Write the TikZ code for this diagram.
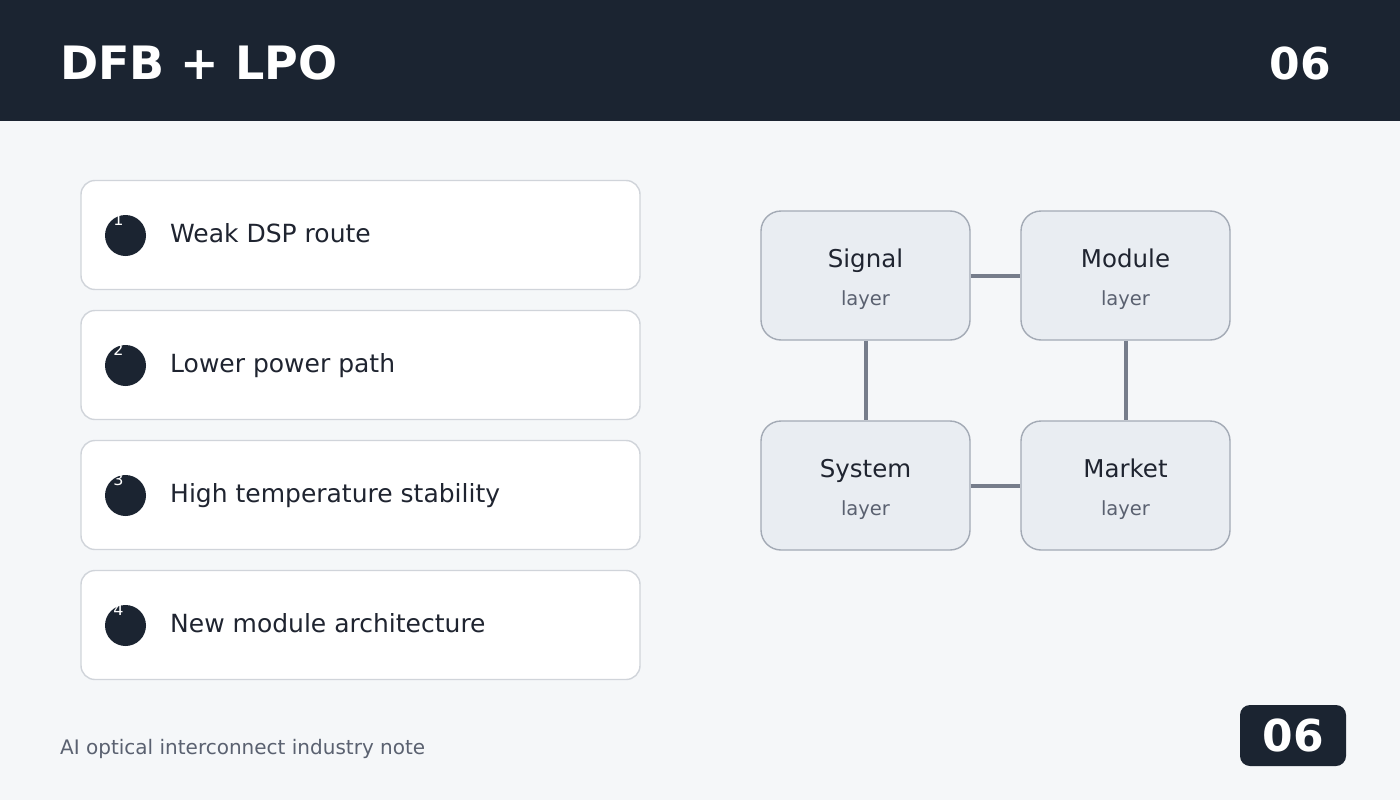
\documentclass[tikz,border=0pt]{standalone}
\usepackage{fontspec}
\setmainfont{DejaVu Sans}
\usepackage{xcolor}
\usetikzlibrary{positioning}

\definecolor{inkbg}{HTML}{1B2431}
\definecolor{pagebg}{HTML}{F5F7F9}
\definecolor{cardline}{HTML}{D0D4DA}
\definecolor{layerfill}{HTML}{E9EDF2}
\definecolor{layerline}{HTML}{A3AAB5}
\definecolor{linkgray}{HTML}{767D8B}
\definecolor{textdark}{HTML}{1F2430}
\definecolor{textsoft}{HTML}{5A6170}

\begin{document}
\begin{tikzpicture}[x=1pt,y=-1pt,
  card/.style={draw=cardline,line width=1.4pt,fill=white,rounded corners=14pt,minimum width=559pt,minimum height=109pt,inner sep=0pt},
  dot/.style={circle,fill=inkbg,minimum size=41pt,inner sep=0pt},
  layerbox/.style={draw=layerline,line width=1.4pt,fill=layerfill,rounded corners=20pt,minimum width=209pt,minimum height=129pt,inner sep=0pt},
  link/.style={draw=linkgray,line width=4pt}]
\useasboundingbox (0,0) rectangle (1400,800);
\fill[pagebg] (0,0) rectangle (1400,800);
\fill[inkbg] (0,0) rectangle (1400,121);
\node[anchor=base west,text=white,font=\fontsize{46}{50}\selectfont\bfseries,inner sep=0pt] (title) at (60,79) {DFB + LPO};
\node[anchor=base east,text=white,font=\fontsize{44}{50}\selectfont\bfseries,inner sep=0pt] (pageno) at (1331,79) {06};

% left list
\foreach \i/\y/\txt in {1/235/Weak DSP route,2/365/Lower power path,3/495/High temperature stability,4/625/New module architecture}{
  \node[card] (card\i) at (360.5,\y) {};
  \node[dot] (dot\i) at (125.5,\y+0.5) {};
  \node[text=white,font=\fontsize{16}{16}\selectfont,inner sep=0pt] (num\i) at (118.5,\y-15) {\i};
  \node[anchor=base west,text=textdark,font=\fontsize{25}{28}\selectfont,inner sep=0pt] (item\i) at (170,\y+7) {\txt};
}

% layer grid
\node[layerbox] (signal) at (865.5,275.5) {};
\node[layerbox] (module) at (1125.5,275.5) {};
\node[layerbox] (system) at (865.5,485.5) {};
\node[layerbox] (market) at (1125.5,485.5) {};
\foreach \n/\t in {signal/Signal,module/Module,system/System,market/Market}{
  \node[anchor=base,text=textdark,font=\fontsize{24.5}{28}\selectfont,inner sep=0pt] at ([yshift=8.5pt]\n.center) {\t};
  \node[anchor=base,text=textsoft,font=\fontsize{19.5}{22}\selectfont,inner sep=0pt] at ([yshift=-29.5pt]\n.center) {layer};
}
\draw[link] (signal) -- (module);
\draw[link] (system) -- (market);
\draw[link] (signal) -- (system);
\draw[link] (module) -- (market);

% footer
\node[anchor=base west,text=textsoft,font=\fontsize{20}{22}\selectfont,inner sep=0pt] (note) at (60,754) {AI optical interconnect industry note};
\node[fill=inkbg,rounded corners=10pt,minimum width=106pt,minimum height=61pt,inner sep=0pt] (badge) at (1293,735.5) {};
\node[anchor=base,text=white,font=\fontsize{44}{50}\selectfont\bfseries,inner sep=0pt] at (1293,751) {06};
\end{tikzpicture}
\end{document}
